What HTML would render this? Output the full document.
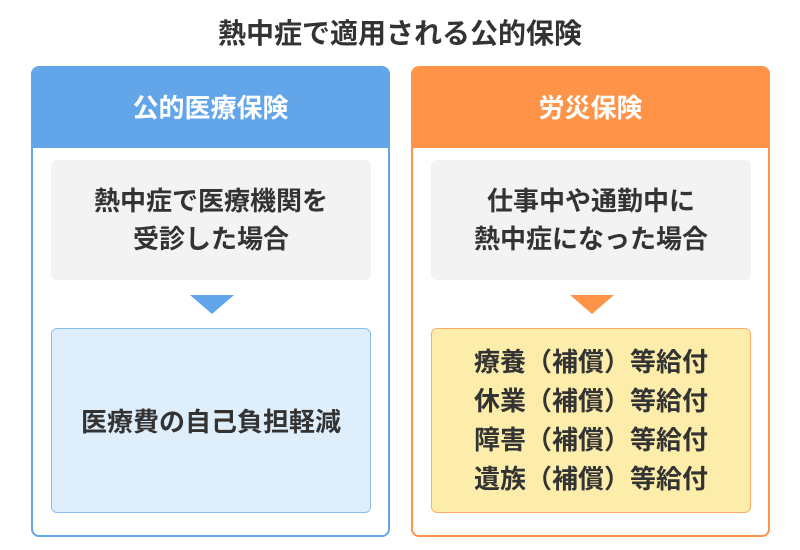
<!DOCTYPE html>
<html><head><meta charset="utf-8"><style>
*{margin:0;padding:0;box-sizing:border-box}
body{width:800px;height:550px;background:#fff;font-family:"Liberation Sans","Noto Sans CJK JP",sans-serif;color:#333;position:relative;overflow:hidden}
.t{position:absolute;top:17px;left:0;width:800px;text-align:center;font-size:28px;font-weight:bold;line-height:34px}
.p{position:absolute;top:66px;width:359px;height:471px;border:2px solid;border-radius:8px;overflow:hidden}
.h{height:80px;color:#fff;font-size:26px;font-weight:bold;text-align:center;line-height:80px}
.b{position:absolute;left:18px;width:320px;border-radius:6px;display:flex;align-items:center;justify-content:center;text-align:center;font-weight:bold;font-size:26px}
.tri{position:absolute;left:157px;top:227px;width:0;height:0;border-left:22px solid transparent;border-right:22px solid transparent;border-top:19px solid}
</style></head><body>
<div class="t">熱中症で適用される公的保険</div>
<div class="p" style="left:31px;border-color:#62a5e8">
 <div class="h" style="background:#62a5e8">公的医療保険</div>
 <div class="b" style="top:92px;height:120px;background:#f3f3f3;line-height:38px">熱中症で医療機関を<br>受診した場合</div>
 <div class="tri" style="border-top-color:#62a5e8"></div>
 <div class="b" style="top:260px;height:185px;background:#dfeefb;border:1.5px solid #8cbdf0">医療費の自己負担軽減</div>
</div>
<div class="p" style="left:411px;border-color:#ff9347">
 <div class="h" style="background:#ff9347">労災保険</div>
 <div class="b" style="top:92px;height:120px;background:#f3f3f3;line-height:38px">仕事中や通勤中に<br>熱中症になった場合</div>
 <div class="tri" style="border-top-color:#ff9347"></div>
 <div class="b" style="top:260px;height:185px;background:#fcedab;border:1.5px solid #ffab6b;line-height:39px">療養（補償）等給付<br>休業（補償）等給付<br>障害（補償）等給付<br>遺族（補償）等給付</div>
</div>
</body></html>
